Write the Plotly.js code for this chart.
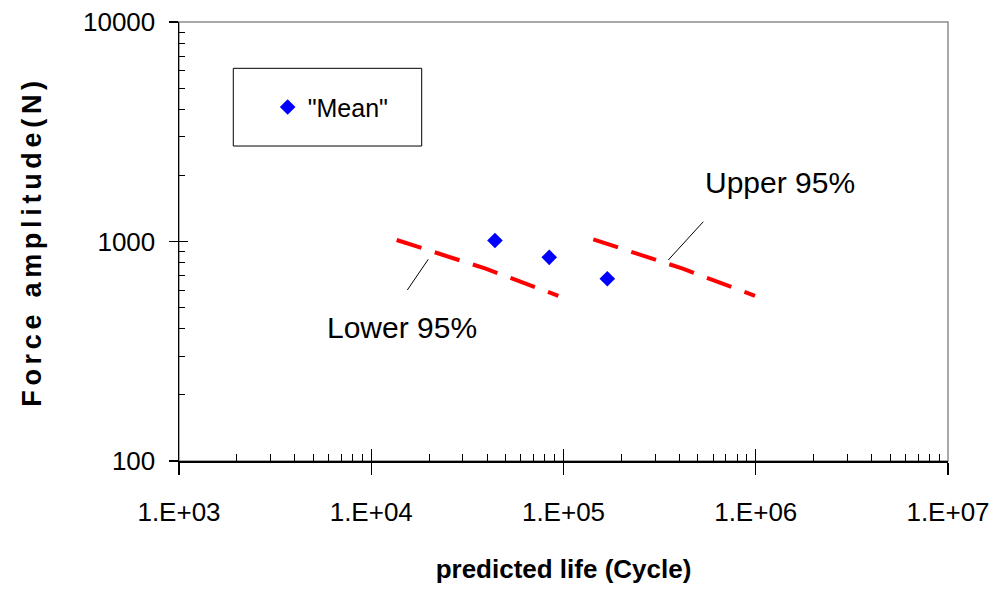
<!DOCTYPE html>
<html>
<head>
<meta charset="utf-8">
<script src="https://cdn.plot.ly/plotly-3.0.1.min.js"></script>
<style>
  html, body { margin: 0; padding: 0; background: #fff; }
  #chart { width: 992px; height: 590px; }
  .ytitle { letter-spacing: 4.7px; }
</style>
</head>
<body>
<div id="chart"></div>
<script>
// ---- data ----
const meanLife = [44000, 84300, 169000];
const meanForce = [1010, 847, 677];

const lowerLife = [13560, 39400, 94000];
const lowerForce = [1016, 752, 566];

const upperLife = [142900, 417000, 991000];
const upperForce = [1023, 752, 566];

const xTickVals = [1e3, 1e4, 1e5, 1e6, 1e7];
const xTickText = ['1.E+03', '1.E+04', '1.E+05', '1.E+06', '1.E+07'];
const yTickVals = [100, 1000, 10000];
const yTickText = ['100', '1000', '10000'];

const xTitle = 'predicted life (Cycle)';
const yTitle = 'Force amplitude(N)';
const meanName = '"Mean"';
const upperLabel = 'Upper 95%';
const lowerLabel = 'Lower 95%';

// minor tick positions (2..9 within each decade)
function minorTicks(lo, hi) {
  const out = [];
  for (let e = lo; e < hi; e++) for (let m = 2; m <= 9; m++) out.push(m * Math.pow(10, e));
  return out;
}

const NARROW = "'Liberation Sans Narrow', 'Arial Narrow', 'Liberation Sans', Arial, sans-serif";
const SANS = "'Liberation Sans', Arial, sans-serif";

const traces = [
  {
    x: lowerLife, y: lowerForce, mode: 'lines', showlegend: false, hoverinfo: 'skip',
    line: { color: '#FF0000', width: 4, dash: '26px,14px' }
  },
  {
    x: upperLife, y: upperForce, mode: 'lines', showlegend: false, hoverinfo: 'skip',
    line: { color: '#FF0000', width: 4, dash: '26px,14px' }
  },
  {
    x: meanLife, y: meanForce, mode: 'markers', name: meanName,
    marker: { symbol: 'diamond', size: 12, color: '#0000FF' }
  },
  { x: [], y: [], xaxis: 'x2', yaxis: 'y2', showlegend: false, hoverinfo: 'skip' }
];

const axisCommon = {
  type: 'log', showgrid: false, zeroline: false,
  showline: true, linecolor: '#000', linewidth: 1.5,
  tickcolor: '#000', tickwidth: 1.2, ticks: 'outside',
  tickmode: 'array'
};

const layout = {
  width: 992, height: 590,
  margin: { l: 179, r: 44, t: 22, b: 129, pad: 0 },
  paper_bgcolor: '#fff', plot_bgcolor: '#fff',
  showlegend: true,
  legend: {
    x: 0.1153, y: 0.8057, xanchor: 'left', yanchor: 'middle',
    bgcolor: 'rgba(0,0,0,0)', borderwidth: 0,
    font: { family: NARROW, size: 25, color: '#000' }
  },
  xaxis: Object.assign({}, axisCommon, {
    range: [3, 7], tickvals: xTickVals, ticktext: xTickText, ticklen: 12,
    tickfont: { family: NARROW, size: 26, color: '#000' },
    ticklabelstandoff: 15, ticklabeloverflow: 'allow',
    minor: { tickmode: 'array', tickvals: minorTicks(3, 7), ticks: 'inside', ticklen: 7, tickcolor: '#000', tickwidth: 1, showgrid: false },
    title: { text: xTitle, font: { family: NARROW, size: 26, color: '#000', weight: 'bold' }, standoff: 34 }
  }),
  yaxis: Object.assign({}, axisCommon, {
    range: [2, 4], tickvals: yTickVals, ticktext: yTickText, ticklen: 9,
    tickfont: { family: NARROW, size: 26, color: '#000' },
    ticklabelstandoff: 8,
    minor: { tickmode: 'array', tickvals: minorTicks(2, 4), ticks: 'inside', ticklen: 6, tickcolor: '#000', tickwidth: 1, showgrid: false },
    title: { text: yTitle, font: { family: SANS, size: 27, color: '#000', weight: 'bold' }, standoff: 33 }
  }),
  xaxis2: {
    type: 'log', range: [3, 7], overlaying: 'x', anchor: 'y2', side: 'bottom',
    tickmode: 'array', tickvals: xTickVals, ticks: 'inside', ticklen: 12,
    tickcolor: '#000', tickwidth: 1.2, showticklabels: false, showline: false,
    showgrid: false, zeroline: false
  },
  yaxis2: {
    type: 'log', range: [2, 4], overlaying: 'y', anchor: 'x2', side: 'left',
    tickmode: 'array', tickvals: yTickVals, ticks: 'inside', ticklen: 9,
    tickcolor: '#000', tickwidth: 1.2, showticklabels: false, showline: false,
    showgrid: false, zeroline: false
  },
  shapes: [
    // gray frame (top / right)
    { type: 'rect', xref: 'paper', yref: 'paper', x0: 0, x1: 1, y0: 0, y1: 1,
      line: { color: '#8c8c8c', width: 1.5 }, layer: 'below' },
    // legend box
    { type: 'rect', xref: 'paper', yref: 'paper', x0: 0.0706, x1: 0.3156, y0: 0.7175, y1: 0.8945,
      line: { color: '#000', width: 1 }, fillcolor: 'rgba(0,0,0,0)' },
    // leader lines
    { type: 'line', xref: 'paper', yref: 'paper', x0: 0.6363, y0: 0.4579, x1: 0.6818, y1: 0.5451,
      line: { color: '#000', width: 1 } },
    { type: 'line', xref: 'paper', yref: 'paper', x0: 0.2969, y0: 0.3895, x1: 0.3242, y1: 0.4595,
      line: { color: '#000', width: 1 } }
  ],
  annotations: [
    { xref: 'paper', yref: 'paper', x: 0.7815, y: 0.6333, xanchor: 'center', yanchor: 'middle',
      text: upperLabel, showarrow: false, font: { family: NARROW, size: 30, color: '#000' } },
    { xref: 'paper', yref: 'paper', x: 0.2906, y: 0.3052, xanchor: 'center', yanchor: 'middle',
      text: lowerLabel, showarrow: false, font: { family: NARROW, size: 30, color: '#000' } }
  ]
};

Plotly.newPlot('chart', traces, layout, { staticPlot: true, displayModeBar: false });
</script>
</body>
</html>
